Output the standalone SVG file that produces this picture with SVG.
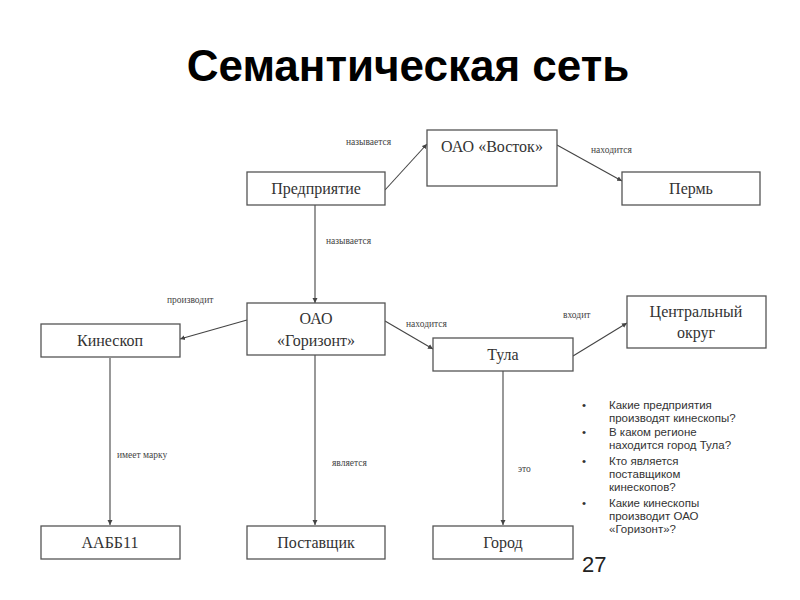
<svg xmlns="http://www.w3.org/2000/svg" width="800" height="600" viewBox="0 0 800 600">
<style>
.box{fill:#fff;stroke:#555;stroke-width:1.3}
.nt{font-family:'Liberation Serif','DejaVu Serif',serif;font-size:16px;fill:#333;text-anchor:middle}
.lb{font-family:'Liberation Serif','DejaVu Serif',serif;font-size:9.5px;fill:#444}
.cn{stroke:#444;stroke-width:1.1;fill:none;marker-end:url(#ah)}
.q{font-family:'Liberation Sans',sans-serif;font-size:11.5px;fill:#333}
</style>
<defs>
<marker id="ah" markerWidth="6" markerHeight="6" refX="5" refY="3" orient="auto" markerUnits="userSpaceOnUse">
<path d="M0,0.5 L5,3 L0,5.5 Z" fill="#444"/>
</marker>
</defs>
<rect width="800" height="600" fill="#fff"/>
<text x="408" y="81" font-family="'Liberation Sans',sans-serif" font-size="44" font-weight="bold" text-anchor="middle" fill="#000">Семантическая сеть</text>

<g id="connectors">
<line class="cn" x1="385" y1="190" x2="427" y2="144"/>
<line class="cn" x1="557" y1="145" x2="622" y2="181"/>
<line class="cn" x1="315" y1="205" x2="315" y2="303"/>
<line class="cn" x1="247" y1="320" x2="180" y2="339"/>
<line class="cn" x1="385" y1="321" x2="433" y2="349"/>
<line class="cn" x1="573" y1="356" x2="627" y2="323"/>
<line class="cn" x1="110" y1="358" x2="110" y2="525"/>
<line class="cn" x1="315" y1="342" x2="315" y2="525"/>
<line class="cn" x1="503" y1="371" x2="503" y2="525"/>
</g>

<g id="labels">
<text class="lb" x="346" y="145">называется</text>
<text class="lb" x="591" y="153">находится</text>
<text class="lb" x="326" y="244">называется</text>
<text class="lb" x="167" y="303">производит</text>
<text class="lb" x="406" y="327">находится</text>
<text class="lb" x="563" y="318">входит</text>
<text class="lb" x="117" y="458">имеет марку</text>
<text class="lb" x="332" y="466">является</text>
<text class="lb" x="518" y="472">это</text>
</g>

<g id="n-predpriyatie"><rect class="box" x="247" y="172" width="138" height="33"/><text class="nt" x="316" y="194">Предприятие</text></g>
<g id="n-vostok"><rect class="box" x="427" y="130" width="130" height="56"/><text class="nt" x="492" y="152">ОАО «Восток»</text></g>
<g id="n-perm"><rect class="box" x="622" y="172" width="138" height="33"/><text class="nt" x="691" y="194">Пермь</text></g>
<g id="n-gorizont"><rect class="box" x="247" y="303" width="138" height="52"/><text class="nt" x="316" y="324">ОАО</text><text class="nt" x="316" y="346">«Горизонт»</text></g>
<g id="n-kineskop"><rect class="box" x="41" y="324" width="139" height="33"/><text class="nt" x="110" y="346">Кинескоп</text></g>
<g id="n-tula"><rect class="box" x="433" y="338" width="140" height="33"/><text class="nt" x="503" y="360">Тула</text></g>
<g id="n-okrug"><rect class="box" x="627" y="296" width="139" height="52"/><text class="nt" x="696" y="317">Центральный</text><text class="nt" x="696" y="338">округ</text></g>
<g id="n-aabb"><rect class="box" x="41" y="526" width="139" height="33"/><text class="nt" x="110" y="548">ААББ11</text></g>
<g id="n-postavshik"><rect class="box" x="247" y="526" width="138" height="33"/><text class="nt" x="316" y="548">Поставщик</text></g>
<g id="n-gorod"><rect class="box" x="433" y="526" width="140" height="33"/><text class="nt" x="503" y="548">Город</text></g>

<g id="questions" class="q">
<text x="582" y="409">•</text><text x="609" y="409">Какие предприятия</text><text x="609" y="422">производят кинескопы?</text>
<text x="582" y="436">•</text><text x="609" y="436">В каком регионе</text><text x="609" y="449">находится город Тула?</text>
<text x="582" y="465">•</text><text x="609" y="465">Кто является</text><text x="609" y="478">поставщиком</text><text x="609" y="491">кинескопов?</text>
<text x="582" y="507">•</text><text x="609" y="507">Какие кинескопы</text><text x="609" y="520">производит ОАО</text><text x="609" y="533">«Горизонт»?</text>
</g>
<text x="582" y="572" font-family="'Liberation Sans',sans-serif" font-size="22" fill="#222">27</text>
</svg>
